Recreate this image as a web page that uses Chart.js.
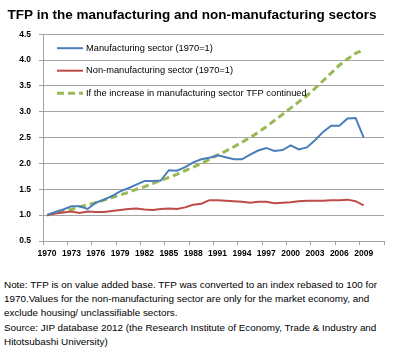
<!DOCTYPE html>
<html><head><meta charset="utf-8">
<script src="https://cdn.jsdelivr.net/npm/chart.js@4/dist/chart.umd.min.js"></script>
<style>
html,body{margin:0;padding:0;background:#fff;}
#wrap{position:relative;width:404px;height:268px;}
#note{font-family:"Liberation Sans",Arial,sans-serif;font-size:9.9px;line-height:14.2px;color:#000;margin:10px 0 0 0;padding:0 0 0 4px;white-space:nowrap;}
</style></head><body>
<div id="wrap"><canvas id="c"></canvas></div>
<div id="note">Note: TFP is on value added base. TFP was converted to an index rebased to 100 for<br>1970.Values for the non-manufacturing sector are only for the market economy, and<br>exclude housing/ unclassifiable sectors.<br>Source: JIP database 2012 (the Research Institute of Economy, Trade &amp; Industry and<br>Hitotsubashi University)</div>
<script>
const titleText = 'TFP in the manufacturing and non-manufacturing sectors';
const years = ['1970','1971','1972','1973','1974','1975','1976','1977','1978','1979',
  '1980','1981','1982','1983','1984','1985','1986','1987','1988','1989',
  '1990','1991','1992','1993','1994','1995','1996','1997','1998','1999',
  '2000','2001','2002','2003','2004','2005','2006','2007','2008','2009','2010','2011'];
const xTickLabels = ['1970','1973','1976','1979','1982','1985','1988','1991','1994','1997','2000','2003','2006','2009'];
const seriesNames = ['Manufacturing sector (1970=1)','Non-manufacturing sector (1970=1)','If the increase in manufacturing sector TFP continued'];
const manufacturing = [1.00,1.06,1.11,1.17,1.17,1.12,1.24,1.30,1.37,1.46,
  1.52,1.59,1.66,1.66,1.67,1.87,1.86,1.93,2.02,2.08,
  2.11,2.16,2.12,2.08,2.08,2.17,2.25,2.30,2.24,2.26,
  2.35,2.27,2.31,2.45,2.61,2.73,2.73,2.87,2.88,2.50];
const nonManufacturing = [1.00,1.03,1.05,1.07,1.04,1.07,1.06,1.06,1.08,1.10,
  1.12,1.13,1.11,1.10,1.12,1.13,1.12,1.15,1.20,1.22,
  1.29,1.29,1.28,1.27,1.26,1.24,1.26,1.26,1.23,1.24,
  1.25,1.27,1.28,1.28,1.28,1.29,1.29,1.30,1.27,1.19];
const continued = [1.00,1.04,1.08,1.11,1.16,1.20,1.24,1.29,1.34,1.39,
  1.44,1.50,1.55,1.61,1.67,1.73,1.79,1.86,1.93,2.00,
  2.08,2.16,2.24,2.32,2.41,2.50,2.60,2.71,2.83,2.95,
  3.07,3.19,3.31,3.45,3.60,3.75,3.90,4.02,4.13,4.20];
const yMin = 0.5, yMax = 4.5, yStep = 0.5;

const gridColor = '#a3a3a3';
const FONT = '"Liberation Sans", Arial, sans-serif';

const legendPlugin = {
  id: 'inlegend',
  afterDatasetsDraw(chart) {
    const ctx = chart.ctx, a = chart.chartArea;
    chart.data.datasets.forEach((ds, i) => {
      const y = a.top + 14 + i * 22.5;
      ctx.save();
      ctx.strokeStyle = ds.borderColor;
      ctx.lineWidth = ds.borderWidth;
      ctx.setLineDash(ds.borderDash || []);
      ctx.beginPath();
      ctx.moveTo(a.left + 14, y);
      ctx.lineTo(a.left + 40, y);
      ctx.stroke();
      ctx.setLineDash([]);
      ctx.fillStyle = '#000';
      ctx.font = '9.3px ' + FONT;
      ctx.textBaseline = 'middle';
      ctx.textAlign = 'left';
      ctx.fillText(ds.label, a.left + 43, y);
      ctx.restore();
    });
  }
};

new Chart(document.getElementById('c'), {
  type: 'line',
  data: {
    labels: years,
    datasets: [
      {label: seriesNames[0], data: manufacturing, borderColor: '#4a7ebb', borderWidth: 2, pointRadius: 0, tension: 0, fill: false},
      {label: seriesNames[1], data: nonManufacturing, borderColor: '#be4b48', borderWidth: 2, pointRadius: 0, tension: 0, fill: false},
      {label: seriesNames[2], data: continued, borderColor: '#98b954', borderWidth: 3, borderDash: [7, 4], pointRadius: 0, tension: 0, fill: false}
    ]
  },
  options: {
    responsive: true,
    maintainAspectRatio: false,
    animation: false,
    devicePixelRatio: 1,
    layout: {padding: {left: 0, right: 20, top: 0, bottom: 0}},
    plugins: {
      legend: {display: false},
      tooltip: {enabled: false},
      title: {display: true, text: titleText, color: '#000', font: {family: FONT, size: 13.5, weight: 'bold'}, padding: {top: 7, bottom: 11}}
    },
    scales: {
      x: {
        type: 'category',
        offset: true,
        grid: {offset: true, drawOnChartArea: false, drawTicks: true, tickLength: 4,
          color: ctx => (ctx.index === undefined || ctx.index % 3 === 0) ? gridColor : 'rgba(0,0,0,0)'},
        border: {display: true, color: gridColor, width: 1},
        ticks: {autoSkip: false, maxRotation: 0, minRotation: 0, padding: 4, color: '#000',
          font: {family: FONT, size: 8.5, weight: 'bold'},
          callback: function(v) { const l = this.getLabelForValue(v); return xTickLabels.includes(l) ? l : ''; }},
        afterFit: s => { s.height = 27; }
      },
      y: {
        min: yMin, max: yMax,
        grid: {color: gridColor, tickLength: 4, drawTicks: true},
        border: {display: true, color: gridColor, width: 1},
        ticks: {stepSize: yStep, padding: 8, color: '#000', font: {family: FONT, size: 8.5, weight: 'bold'},
          callback: v => Number(v).toFixed(1)},
        afterFit: s => { s.width = 43; }
      }
    }
  },
  plugins: [legendPlugin]
});
</script>
</body></html>
